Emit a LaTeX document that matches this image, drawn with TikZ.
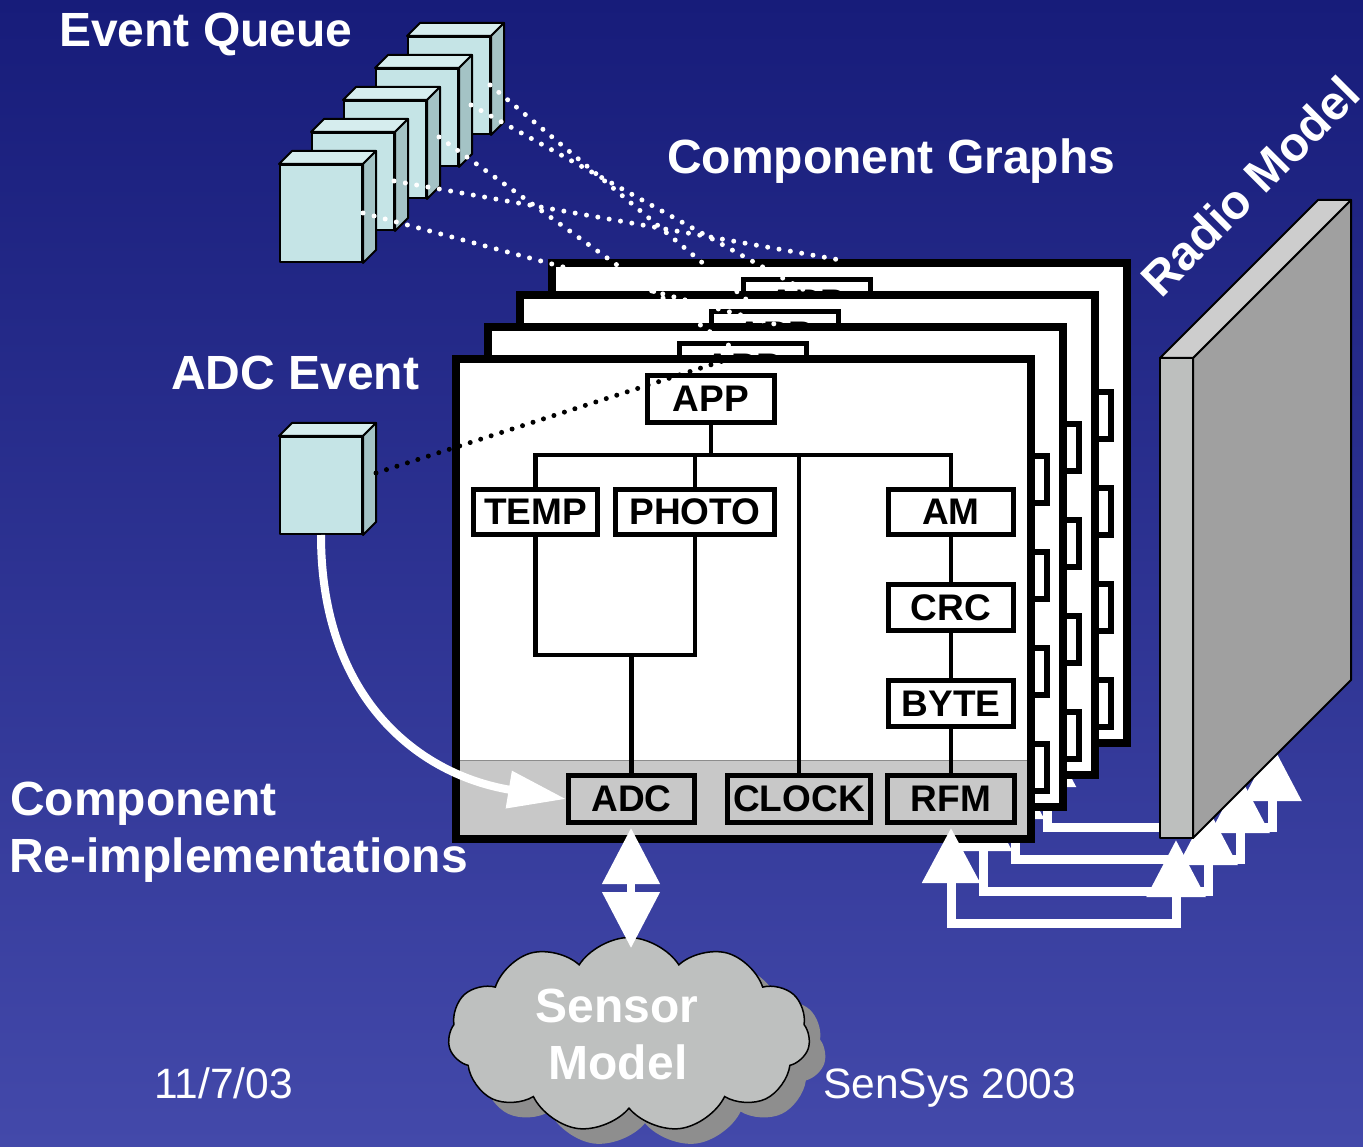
\documentclass[tikz,border=0pt]{standalone}
\usepackage{fontspec}
\setmainfont{Liberation Sans}
\usetikzlibrary{arrows.meta,shapes.symbols}

\definecolor{bgtop}{RGB}{23,28,122}
\definecolor{bgbot}{RGB}{67,73,170}
\definecolor{cubefront}{RGB}{197,228,230}
\definecolor{cubetop}{RGB}{214,237,238}
\definecolor{cubeside}{RGB}{164,195,197}
\definecolor{bargray}{RGB}{200,200,200}
\definecolor{cloudfill}{RGB}{190,192,191}
\definecolor{cloudshade}{RGB}{142,142,142}
\definecolor{slabfront}{RGB}{189,191,190}
\definecolor{slabtop}{RGB}{205,205,205}
\definecolor{slabside}{RGB}{160,160,160}

% top and right faces of a queue cube, hung on its front-face node
\newcommand\cubeshell[1]{%
  \filldraw[cubeline, fill=cubetop] (#1.north west) -- ([shift={(13,-13)}]#1.north west)
     -- ([shift={(13,-13)}]#1.north east) -- (#1.north east) -- cycle;
  \filldraw[cubeline, fill=cubeside] (#1.north east) -- ([shift={(13,-13)}]#1.north east)
     -- ([shift={(13,-13)}]#1.south east) -- (#1.south east) -- cycle;}

% row of side tabs on a card
\newcommand\cardtabs{%
  \foreach \t in {0,1,2,3}{\draw[tabbox] (1031,{456+96*\t}) rectangle (1047,{503+96*\t});}}

% one card of the stack behind the front one, with its radio link;
% #2 = 1 gives the card its side tabs
\newcommand\backframe[2]{%
  \begin{scope}[shift={(32*#1,-32*#1)}]
    \ifnum#2=1 \cardtabs\fi
    \draw[framebox] (456,359) rectangle (1031,839);
    \node[comp, minimum width=127pt, minimum height=47pt] (app#1) at (711,399) {APP};
    \coordinate (rx#1) at (951,828);
    \coordinate (rc#1) at (951,923);
    \coordinate (sc#1) at (1176,923);
    \coordinate (sx#1) at (1176,840);
  \end{scope}
  \draw[radiolink] (rx#1) -- (rc#1) -- (sc#1) -- (sx#1);}

\begin{document}
\begin{tikzpicture}[x=1pt,y=-1pt,
  cubeline/.style={draw=black, line width=2pt, line join=round},
  cubebox/.style={cubeline, fill=cubefront, minimum width=82pt, minimum height=97pt, inner sep=0pt},
  title/.style={text=white, font=\fontsize{48pt}{57pt}\selectfont\bfseries, inner sep=0pt, anchor=base west},
  footer/.style={text=white, font=\fontsize{42.5pt}{50pt}\selectfont, inner sep=0pt, anchor=base west},
  comp/.style={draw=black, line width=5pt, fill=white, inner sep=0pt, minimum height=45pt,
    font=\fontsize{37pt}{40pt}\selectfont\bfseries, text=black},
  compg/.style={comp, fill=bargray, minimum height=47pt},
  wire/.style={draw=black, line width=4.5pt},
  framebox/.style={draw=black, line width=8pt, fill=white},
  tabbox/.style={draw=black, line width=5.5pt, fill=white},
  radiolink/.style={draw=white, line width=9pt,
    {Triangle[length=55pt,width=56pt]}-{Triangle[length=57pt,width=57pt]}},
  twoway/.style={draw=white, line width=8pt,
    {Triangle[length=56pt,width=56pt]}-{Triangle[length=56pt,width=56pt]}},
  inject/.style={draw=white, line width=8pt, -{Triangle[length=58pt,width=36pt]}},
  qdots/.style={draw=white, line width=5pt, line cap=round, dash pattern=on 0pt off 11.5pt},
  bdots/.style={draw=black, line width=5pt, line cap=round, dash pattern=on 0pt off 11pt},
  slabline/.style={draw=black, line width=2pt, line join=round},
  puff/.style={cloud, cloud puffs=11, cloud puff arc=115, aspect=1.9,
    minimum width=362pt, minimum height=195pt, inner sep=0pt},
]

% background
\shade[top color=bgtop, bottom color=bgbot] (0,0) rectangle (1363,1147);
\useasboundingbox (0,0) rectangle (1363,1147);

% event queue, back to front
\foreach \j in {4,3,2,1,0}{
  \node[cubebox] (eq\j) at ({321+32*\j},{213.5-32*\j}) {};
  \cubeshell{eq\j}
}
% single ADC event
\node[cubebox] (adcev) at (321,485.5) {};
\cubeshell{adcev}

% labels
\node[title] (lblEQ) at (59,47) {Event Queue};
\node[title] (lblCG) at (667,174) {Component Graphs};
\node[title] (lblADC) at (171,390) {ADC Event};
\node[title] (lblCR1) at (10,815) {Component};
\node[title] (lblCR2) at (9,872) {Re-implementations};
\node[footer] (lblDate) at (154,1098) {11/7/03};
\node[footer] (lblConf) at (823,1098) {SenSys 2003};

% stacked component graphs
\backframe{3}{0}
\backframe{2}{1}
\backframe{1}{1}

% front component graph
\cardtabs
\draw[framebox] (456,359) rectangle (1031,839);
\draw[fill=bargray, draw=black!45, line width=1pt] (456,760) rectangle (1031,839);
\draw[draw=black, line width=8pt] (456,359) rectangle (1031,839);

\node[comp, minimum width=127pt, minimum height=47pt] (app) at (711,399) {APP};
\node[comp, minimum width=124pt] (temp) at (535.5,512) {TEMP};
\node[comp, minimum width=159pt] (photo) at (695,512) {PHOTO};
\node[comp, minimum width=125pt] (am) at (951,512) {AM};
\node[comp, minimum width=125pt, minimum height=46pt] (crc) at (951,607.5) {CRC};
\node[comp, minimum width=125pt, minimum height=46pt] (byte) at (951,703.5) {BYTE};
\node[compg, minimum width=126pt] (adc) at (631.5,799) {ADC};
\node[compg, minimum width=143pt] (clock) at (799,799) {CLOCK};
\node[compg, minimum width=127pt] (rfm) at (951,799) {RFM};

\coordinate (bus) at (535.5,455);
\coordinate (ujoin) at (631.5,655);
\draw[wire] (temp.north) -- (temp.north |- bus) -- (am.north |- bus) -- (am.north);
\draw[wire] (app.south) -- (app.south |- bus);
\draw[wire] (photo.north) -- (photo.north |- bus);
\draw[wire] (clock.north) -- (clock.north |- bus);
\draw[wire] (temp.south) |- (ujoin) -| (photo.south);
\draw[wire] (ujoin) -- (adc.north);
\draw[wire] (am.south) -- (crc.north);
\draw[wire] (crc.south) -- (byte.north);
\draw[wire] (byte.south) -- (rfm.north);

\coordinate (rx0) at (951,828);
\coordinate (rc0) at (951,923);
\coordinate (sc0) at (1176,923);
\coordinate (sx0) at (1176,840);
\draw[radiolink] (rx0) -- (rc0) -- (sc0) -- (sx0);

% ADC event fed into the ADC re-implementation
\draw[inject] (adcev.south) .. controls (321,700) and (420,775) .. (adc.west);

% sensor model cloud
\node[puff, fill=cloudshade] (sensorshade) at (645,1050) {};
\node[puff, fill=cloudfill, draw=black, line width=1.5pt] (sensor) at (629,1035) {};
\node[title, anchor=base] (sensA) at (617,1022) {Sensor};
\node[title, anchor=base] (sensB) at (618,1079) {Model};
\coordinate (adcOut) at (631,828);
\coordinate (sensIn) at (631,948);
\draw[twoway] (adcOut) -- (sensIn);

% queue entries linked to their graphs
\coordinate (qa0) at (490,85);  \coordinate (qa1) at (760,311);
\coordinate (qb0) at (471,105); \coordinate (qb1) at (806,291);
\coordinate (qc0) at (439,137); \coordinate (qc1) at (731,347);
\coordinate (qd0) at (394,181); \coordinate (qd1) at (840,260);
\coordinate (qe0) at (363,213); \coordinate (qe1) at (778,325);
\draw[qdots] (qa0) -- (qa1);
\draw[qdots] (qb0) -- (qb1);
\draw[qdots] (qc0) -- (qc1);
\draw[qdots] (qd0) -- (qd1);
\draw[qdots] (qe0) -- (qe1);
\coordinate (ev0) at (376,473); \coordinate (ev1) at (735,357);
\draw[bdots] (ev0) -- (ev1);

% radio model slab
\coordinate (rmA) at (1160,358);
\coordinate (rmB) at (1193,358);
\coordinate (rmC) at (1351,200);
\coordinate (rmD) at (1318,200);
\coordinate (rmE) at (1193,838);
\coordinate (rmF) at (1160,838);
\coordinate (rmG) at (1351,680);
\filldraw[slabline, fill=slabside] (rmB) -- (rmC) -- (rmG) -- (rmE) -- cycle;
\filldraw[slabline, fill=slabtop] (rmA) -- (rmD) -- (rmC) -- (rmB) -- cycle;
\filldraw[slabline, fill=slabfront] (rmA) -- (rmB) -- (rmE) -- (rmF) -- cycle;
\node[title, anchor=center, rotate=45] (lblRM) at (1250,186) {Radio Model};

\end{tikzpicture}
\end{document}
